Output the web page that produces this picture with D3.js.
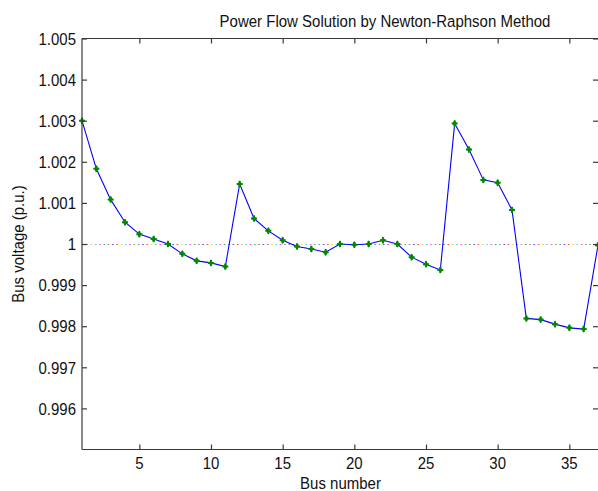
<!DOCTYPE html>
<html>
<head>
<meta charset="utf-8">
<script src="https://cdn.jsdelivr.net/npm/d3@7"></script>
<style>
  html, body { margin: 0; padding: 0; background: #fff; }
  svg { display: block; }
  text { font-family: "Liberation Sans", Arial, Helvetica, sans-serif; fill: #111; }
</style>
</head>
<body>
<svg id="chart" width="598" height="491"></svg>
<script>
// ---- data ----
const busNumbers = d3.range(1, 38);
const busVoltages = [
  1.00300, 1.00183, 1.00108, 1.00053, 1.00024, 1.00012, 1.00000, 0.99976, 0.99959, 0.99954,
  0.99945, 1.00146, 1.00062, 1.00032, 1.00009, 0.99994, 0.99988, 0.99980, 1.00000, 0.99998,
  1.00000, 1.00009, 1.00000, 0.99968, 0.99951, 0.99937, 1.00293, 1.00230, 1.00156, 1.00149,
  1.00083, 0.99819, 0.99816, 0.99805, 0.99796, 0.99793, 0.99997
];
const xTicks = [5, 10, 15, 20, 25, 30, 35];
const yTicks = [0.996, 0.997, 0.998, 0.999, 1, 1.001, 1.002, 1.003, 1.004, 1.005];
const yDomain = [0.995, 1.005];
const xDomain = [1, 37];
const refValue = 1;
const titleText = "Power Flow Solution by Newton-Raphson Method";
const xLabel = "Bus number";
const yLabel = "Bus voltage (p.u.)";

// ---- layout ----
const L = 82, R = 598, T = 38.5, B = 449.5;
const svg = d3.select("#chart");
const x = d3.scaleLinear().domain(xDomain).range([L, R]);
const y = d3.scaleLinear().domain(yDomain).range([B, T]);
const axisColor = "#3a3a3a";
const fs = 15, sy = 1.15;

function txt(g, tx, ty, s, anchor, rot) {
  return g.append("text")
    .attr("transform", `translate(${tx},${ty})` + (rot ? ` rotate(${rot})` : "") + ` scale(1,${sy})`)
    .attr("text-anchor", anchor)
    .attr("font-size", fs)
    .text(s);
}

// reference dotted line (multi-coloured like overlapping MATLAB dotted lines)
const dotColors = ["#0000ff", "#ff0000", "#cccc00", "#00cccc", "#ff00ff", "#009900", "#555555"];
const refG = svg.append("g");
dotColors.forEach((c, i) => {
  refG.append("line")
    .attr("x1", L).attr("x2", R)
    .attr("y1", Math.round(y(refValue)) + 0.5).attr("y2", Math.round(y(refValue)) + 0.5)
    .attr("stroke", c).attr("stroke-width", 1.2)
    .attr("stroke-dasharray", `1.6,${4.3 * dotColors.length - 1.6}`)
    .attr("stroke-dashoffset", -4.3 * i)
    .attr("opacity", 0.7);
});

// data line
const pts = busNumbers.map((b, i) => [b, busVoltages[i]]);
svg.append("clipPath").attr("id", "clip")
  .append("rect").attr("x", L - 4).attr("y", T - 4).attr("width", R - L + 8).attr("height", B - T + 8);
const dataG = svg.append("g").attr("clip-path", "url(#clip)");
dataG.append("path")
  .datum(pts)
  .attr("d", d3.line().x(d => x(d[0])).y(d => y(d[1])))
  .attr("fill", "none")
  .attr("stroke", "#0000ff")
  .attr("stroke-width", 1.1);

// markers
const cross = d3.symbol().type(d3.symbolCross).size(20);
const diamond = d3.symbol().type(d3.symbolDiamond).size(16);
const mk = dataG.selectAll("g.mk").data(pts).join("g")
  .attr("class", "mk")
  .attr("transform", d => `translate(${x(d[0])},${y(d[1])})`);
mk.append("path").attr("d", cross).attr("fill", "#008a00");
mk.append("path").attr("d", diamond).attr("fill", "#008a00");

// axes frame (right edge falls outside the picture)
const ax = svg.append("g").attr("stroke", axisColor).attr("stroke-width", 1.2).attr("fill", "none");
ax.append("line").attr("x1", L).attr("x2", L).attr("y1", T).attr("y2", B);
ax.append("line").attr("x1", L).attr("x2", R).attr("y1", B).attr("y2", B);
ax.append("line").attr("x1", L).attr("x2", R).attr("y1", T).attr("y2", T);

// ticks via d3 axes (inward)
const tl = 5;
const xb = svg.append("g").attr("transform", `translate(0,${B})`)
  .call(d3.axisTop(x).tickValues(xTicks).tickSize(tl).tickFormat(""));
const xt = svg.append("g").attr("transform", `translate(0,${T})`)
  .call(d3.axisBottom(x).tickValues(xTicks).tickSize(tl).tickFormat(""));
const yl = svg.append("g").attr("transform", `translate(${L},0)`)
  .call(d3.axisRight(y).tickValues(yTicks).tickSize(tl).tickFormat(""));
const yr = svg.append("g").attr("transform", `translate(${R},0)`)
  .call(d3.axisLeft(y).tickValues(yTicks).tickSize(tl).tickFormat(""));
[xb, xt, yl, yr].forEach(g => {
  g.select(".domain").remove();
  g.selectAll(".tick line").attr("stroke", axisColor).attr("stroke-width", 1.2);
});

// tick labels
const lab = svg.append("g");
xTicks.forEach(v => txt(lab, x(v), 469, String(v), "middle"));
const yFmt = v => (v === 1 ? "1" : d3.format(".3f")(v));
yTicks.forEach(v => txt(lab, 76, y(v) + 6.2, yFmt(v), "end"));

// titles
txt(svg, 385, 26.5, titleText, "middle");
txt(svg, 340.5, 489, xLabel, "middle");
txt(svg, 24, 244, yLabel, "middle", -90);
</script>
</body>
</html>
